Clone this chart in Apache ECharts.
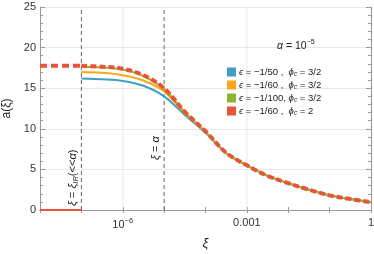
<!DOCTYPE html>
<html><head><meta charset="utf-8">
<script src="https://cdn.jsdelivr.net/npm/echarts@6/dist/echarts.min.js"></script>
<style>html,body{margin:0;padding:0;background:#fff}#c{width:374px;height:254px}</style>
</head><body><div id="c"></div>
<script>
// ---- data ----
const xiIR = 1e-7;
const alphaVal = 1e-5;
const xiMin = 1e-8;
const xiMax = 1;
const xi = [1e-7, 3.16e-7, 1e-6, 3.16e-6, 1e-5, 3.16e-5, 1e-4, 3.16e-4, 1e-3, 3.16e-3, 1e-2, 3.16e-2, 0.1, 0.316, 1];
const aBlue   = [16.2, 16.1, 15.9, 15.3, 14.0, 11.7, 9.5, 7.0, 5.5, 4.2, 3.3, 2.5, 1.8, 1.35, 0.95];
const aOrange = [17.0, 16.9, 16.6, 15.95, 14.6, 11.9, 9.6, 7.0, 5.5, 4.2, 3.3, 2.5, 1.8, 1.35, 0.95];
const aGreen  = [17.65, 17.55, 17.3, 16.5, 14.9, 12.05, 9.65, 7.0, 5.5, 4.2, 3.3, 2.5, 1.8, 1.35, 0.95];
const aRed    = [17.75, 17.65, 17.4, 16.6, 15.0, 12.1, 9.7, 7.05, 5.5, 4.2, 3.3, 2.5, 1.8, 1.35, 0.95];
const preIRplateau = 17.75;
const preIRzero = 0;
const seriesNames = ['ϵ1','ϵ2','ϵ3','ϵ4'];
const legendLabels = {
  'ϵ1': '{i|ϵ} = −1/50 ,  {i|ϕ}{sub|c} = 3/2',
  'ϵ2': '{i|ϵ} = −1/60 ,  {i|ϕ}{sub|c} = 3/2',
  'ϵ3': '{i|ϵ} = −1/100, {i|ϕ}{sub|c} = 3/2',
  'ϵ4': '{i|ϵ} = −1/60 ,  {i|ϕ}{sub|c} = 2'
};
const yMin = 0, yMax = 25;
const xGrid = [1e-6, 1e-3];
const refLines = [xiIR, alphaVal];
const refTexts = ['{i|ξ}{t| = }{i|ξ}{sub|IR}{t|(<<}{i|α}{t|)}', '{i|ξ}{t| = }{i|α}'];
const refLabelLift = [4, 50];

const colors = ['#3f9fcb', '#fba51a', '#8db52f', '#e8533a'];
const font = 'Liberation Sans, Arial, sans-serif';
const zip = (a, b) => a.map((v, i) => [v, b[i]]);

const mkRich = (fs, subfs) => ({
  t: {fontFamily: font, fontSize: fs, color: '#222', lineHeight: 12},
  i: {fontStyle: 'italic', fontFamily: font, fontSize: fs, color: '#222', lineHeight: 12},
  sub: {fontStyle: 'italic', fontFamily: font, fontSize: subfs, color: '#222', padding: [5, 0, 0, 0], lineHeight: 12},
  s: {fontFamily: font, fontSize: 7.5, color: '#333', padding: [0, 0, 7, 0]},
  b: {fontFamily: font, fontSize: 11, color: '#333'}
});
const rich = mkRich(9.5, 6.5);
const richRef = mkRich(11, 7.5);

function xLabel(v) {
  const e = Math.round(Math.log10(v));
  if (e === -6) return '{b|10}{s|−6}';
  if (e === -3) return '{b|0.001}';
  if (e === 0) return '{b|1}';
  return '';
}

const chart = echarts.init(document.getElementById('c'), null, {renderer: 'canvas'});
const lineBase = (name, data, color, extra) => Object.assign({
  name, type: 'line', data: zip(xi, data), showSymbol: false, symbol: 'none',
  smooth: 0.35, lineStyle: {color, width: 2}, itemStyle: {color}, z: 3
}, extra || {});
const vLine = (x, style, z) => ({type: 'line', data: [[x, yMin], [x, yMax]], symbol: 'none', silent: true,
  lineStyle: style, z: z});

const axisGray = '#9a9a9a';

chart.setOption({
  animation: false,
  textStyle: {fontFamily: font},
  grid: {left: 40, right: 3, top: 7, bottom: 44, outerBoundsMode: 'none', containLabel: false},
  title: {
    text: '{i|α} = 10{s|−5}', left: 272, top: 34,
    textStyle: {fontFamily: font, fontSize: 10.5, fontWeight: 'normal', color: '#222',
      rich: {i: {fontStyle: 'italic', fontSize: 10.5, color: '#222'}, s: {fontSize: 7, padding: [0, 0, 7, 0], color: '#222'}}}
  },
  legend: {
    orient: 'vertical', left: 222, top: 61, itemWidth: 9, itemHeight: 9, itemGap: 1,
    icon: 'rect', data: seriesNames,
    formatter: n => legendLabels[n],
    textStyle: {fontFamily: font, fontSize: 9.5, color: '#222', rich: rich, padding: [0, 0, 0, -2]}
  },
  xAxis: [{
    type: 'log', logBase: 10, min: xiMin, max: xiMax, interval: 1,
    name: 'ξ', nameLocation: 'middle', nameGap: 27,
    nameTextStyle: {fontFamily: font, fontSize: 13, fontStyle: 'italic', color: '#222'},
    axisLine: {lineStyle: {color: axisGray, width: 1}},
    axisTick: {inside: true, length: 3, lineStyle: {color: axisGray}},
    axisLabel: {formatter: xLabel, rich: rich, margin: 7},
    splitLine: {show: false}
  }, {
    type: 'log', logBase: 10, min: xiMin, max: xiMax, interval: 1, position: 'top',
    axisLine: {show: true, lineStyle: {color: axisGray, width: 1}},
    axisTick: {inside: true, length: 3, lineStyle: {color: axisGray}},
    axisLabel: {show: false}, splitLine: {show: false}
  }],
  yAxis: [{
    type: 'value', min: yMin, max: yMax, interval: 5,
    name: 'a(ξ)', nameLocation: 'middle', nameGap: 19,
    nameTextStyle: {fontFamily: font, fontSize: 12, color: '#222'},
    axisLine: {show: true, lineStyle: {color: axisGray, width: 1}},
    axisTick: {inside: true, length: 5, lineStyle: {color: axisGray}},
    minorTick: {show: true, splitNumber: 5, length: 3, lineStyle: {color: axisGray}},
    axisLabel: {fontFamily: font, fontSize: 11, color: '#333', margin: 4},
    splitLine: {show: true, lineStyle: {color: '#e8e8e8', width: 1}}
  }, {
    type: 'value', min: yMin, max: yMax, interval: 5, position: 'right',
    axisLine: {show: true, lineStyle: {color: axisGray, width: 1}},
    axisTick: {inside: true, length: 5, lineStyle: {color: axisGray}},
    minorTick: {show: true, splitNumber: 5, length: 3, lineStyle: {color: axisGray}},
    axisLabel: {show: false}, splitLine: {show: false}
  }],
  series: [
    ...xGrid.map(v => vLine(v, {color: '#e8e8e8', width: 1}, 1)),
    ...refLines.map(v => vLine(v, {color: '#666', width: 1, type: [4, 3]}, 2)),
    lineBase(seriesNames[0], aBlue, colors[0]),
    lineBase(seriesNames[1], aOrange, colors[1]),
    lineBase(seriesNames[2], aGreen, colors[2]),
    lineBase(seriesNames[3], aRed, colors[3], {lineStyle: {color: colors[3], width: 4, type: [6, 3]}, z: 5}),
    {name: 'preIR', type: 'line', data: [[xiMin, preIRplateau], [xiIR, preIRplateau]], symbol: 'none',
      lineStyle: {color: colors[3], width: 4, type: [7, 4]}, z: 5},
    {name: 'preIR0', type: 'line', data: [[xiMin, preIRzero], [xiIR, preIRzero]], symbol: 'none',
      lineStyle: {color: colors[3], width: 2}, z: 6}
  ]
});

// rotated annotations beside the reference lines, placed through the axes
const graphics = refLines.map((v, k) => {
  const p = chart.convertToPixel({xAxisIndex: 0, yAxisIndex: 0}, [v, yMin]);
  return {
    type: 'text', x: p[0] - 2, y: p[1] - refLabelLift[k], rotation: Math.PI / 2, z: 10,
    style: {text: refTexts[k], rich: richRef, font: '11px ' + font, fill: '#222', align: 'left', verticalAlign: 'bottom'}
  };
});
chart.setOption({graphic: graphics});
</script></body></html>
